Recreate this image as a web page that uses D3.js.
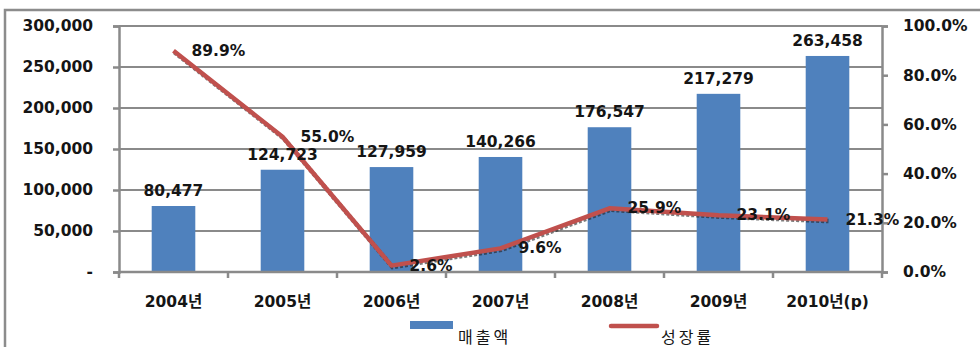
<!DOCTYPE html>
<html>
<head>
<meta charset="utf-8">
<script src="https://cdn.jsdelivr.net/npm/d3@7"></script>
<style>
  html, body { margin: 0; padding: 0; background: #fff; }
  svg { display: block; }
</style>
</head>
<body>
<svg id="chart" width="980" height="347"></svg>
<script>
// Sales (매출액) and growth rate (성장률) by year
const categories = ["2004년", "2005년", "2006년", "2007년", "2008년", "2009년", "2010년(p)"];
const sales = [80477, 124723, 127959, 140266, 176547, 217279, 263458];
const growth = [89.9, 55.0, 2.6, 9.6, 25.9, 23.1, 21.3];
const leftTicks = [0, 50000, 100000, 150000, 200000, 250000, 300000];
const rightTicks = [0, 20, 40, 60, 80, 100];
const seriesNames = ["매출액", "성장률"];

const svg = d3.select("#chart");
const font = "'DejaVu Sans', 'Noto Sans CJK KR', sans-serif";
const krFont = "'Noto Sans CJK KR', 'DejaVu Sans', sans-serif";
const gridColor = "#8a8a8a";
const barColor = "#4F81BD";
const lineColor = "#C0504D";
const textColor = "#151515";

const plot = { left: 119, right: 882, top: 26, bottom: 272 };

// Outer frame (left and top edges)
svg.append("path")
  .attr("d", `M5,347 L5,10 L980,10`)
  .attr("fill", "none").attr("stroke", "#8c8c8c").attr("stroke-width", 2.5);

const x = d3.scaleBand().domain(categories).range([plot.left, plot.right]).paddingInner(0.6).paddingOuter(0.3);
const xc = d => x(d) + x.bandwidth() / 2;
const yL = d3.scaleLinear().domain([0, 300000]).range([plot.bottom, plot.top]);
const yR = d3.scaleLinear().domain([0, 100]).range([plot.bottom, plot.top]);

// Horizontal gridlines
svg.append("g").selectAll("line").data(leftTicks.slice(1)).join("line")
  .attr("x1", plot.left).attr("x2", plot.right)
  .attr("y1", d => yL(d)).attr("y2", d => yL(d))
  .attr("stroke", gridColor).attr("stroke-width", 2);

// Bars
svg.append("g").selectAll("rect").data(sales).join("rect")
  .attr("x", (d, i) => x(categories[i]))
  .attr("y", d => yL(d))
  .attr("width", x.bandwidth())
  .attr("height", d => yL(0) - yL(d))
  .attr("fill", barColor);

// Left axis
const leftAxis = d3.axisLeft(yL).tickValues(leftTicks).tickSize(6).tickPadding(20)
  .tickFormat(d => d === 0 ? "-" : d3.format(",")(d));
const gL = svg.append("g").attr("transform", `translate(${plot.left},0)`).call(leftAxis);

// Right axis
const rightAxis = d3.axisRight(yR).tickValues(rightTicks).tickSize(6).tickPadding(15)
  .tickFormat(d => d.toFixed(1) + "%");
const gR = svg.append("g").attr("transform", `translate(${plot.right},0)`).call(rightAxis);

// Bottom axis with ticks at category boundaries
const bstep = (plot.right - plot.left) / categories.length;
svg.append("line").attr("x1", plot.left).attr("x2", plot.right)
  .attr("y1", plot.bottom).attr("y2", plot.bottom)
  .attr("stroke", gridColor).attr("stroke-width", 2.5);
svg.append("g").selectAll("line").data(d3.range(categories.length + 1)).join("line")
  .attr("x1", i => plot.left + i * bstep).attr("x2", i => plot.left + i * bstep)
  .attr("y1", plot.bottom).attr("y2", plot.bottom + 6)
  .attr("stroke", gridColor).attr("stroke-width", 2.5);
svg.append("g").selectAll("text").data(categories).join("text")
  .attr("x", d => xc(d)).attr("y", 307)
  .attr("text-anchor", "middle")
  .attr("font-family", font).attr("font-size", 15.5).attr("font-weight", "bold")
  .attr("fill", textColor).text(d => d);

[gL, gR].forEach(g => {
  g.select(".domain").attr("stroke", gridColor).attr("stroke-width", 2.5);
  g.selectAll(".tick line").attr("stroke", gridColor).attr("stroke-width", 2.5);
  g.selectAll(".tick text").attr("font-family", font).attr("font-size", 15.5)
    .attr("font-weight", "bold").attr("fill", textColor);
});

// Growth line with a soft dark shadow
const line = d3.line().x((d, i) => xc(categories[i])).y(d => yR(d));
svg.append("path").datum(growth).attr("d", line)
  .attr("fill", "none").attr("stroke", "#222").attr("stroke-width", 4.5)
  .attr("stroke-dasharray", "3,2").attr("opacity", 0.6)
  .attr("transform", "translate(1,1.5)");
svg.append("path").datum(growth).attr("d", line)
  .attr("fill", "none").attr("stroke", lineColor).attr("stroke-width", 4.5)
  .attr("stroke-linejoin", "round");

// Bar value labels
svg.append("g").selectAll("text").data(sales).join("text")
  .attr("x", (d, i) => xc(categories[i])).attr("y", d => yL(d) - 10)
  .attr("text-anchor", "middle")
  .attr("font-family", font).attr("font-size", 15.5).attr("font-weight", "bold")
  .attr("fill", textColor).text(d => d3.format(",")(d));

// Growth labels to the right of each point
svg.append("g").selectAll("text").data(growth).join("text")
  .attr("x", (d, i) => xc(categories[i]) + 18).attr("y", d => yR(d) + 5)
  .attr("font-family", font).attr("font-size", 15.5).attr("font-weight", "bold")
  .attr("fill", textColor).text(d => d.toFixed(1) + "%");

// Legend
const lg = svg.append("g");
lg.append("rect").attr("x", 410).attr("y", 321).attr("width", 43).attr("height", 8).attr("fill", barColor);
lg.append("text").attr("x", 458).attr("y", 343).attr("font-family", krFont).attr("font-size", 16)
  .attr("letter-spacing", 3).attr("fill", textColor).text(seriesNames[0]);
lg.append("line").attr("x1", 611).attr("x2", 657).attr("y1", 326).attr("y2", 326)
  .attr("stroke", lineColor).attr("stroke-width", 4.5).attr("stroke-linecap", "round");
lg.append("text").attr("x", 661).attr("y", 343).attr("font-family", krFont).attr("font-size", 16)
  .attr("letter-spacing", 3).attr("fill", textColor).text(seriesNames[1]);
</script>
</body>
</html>
